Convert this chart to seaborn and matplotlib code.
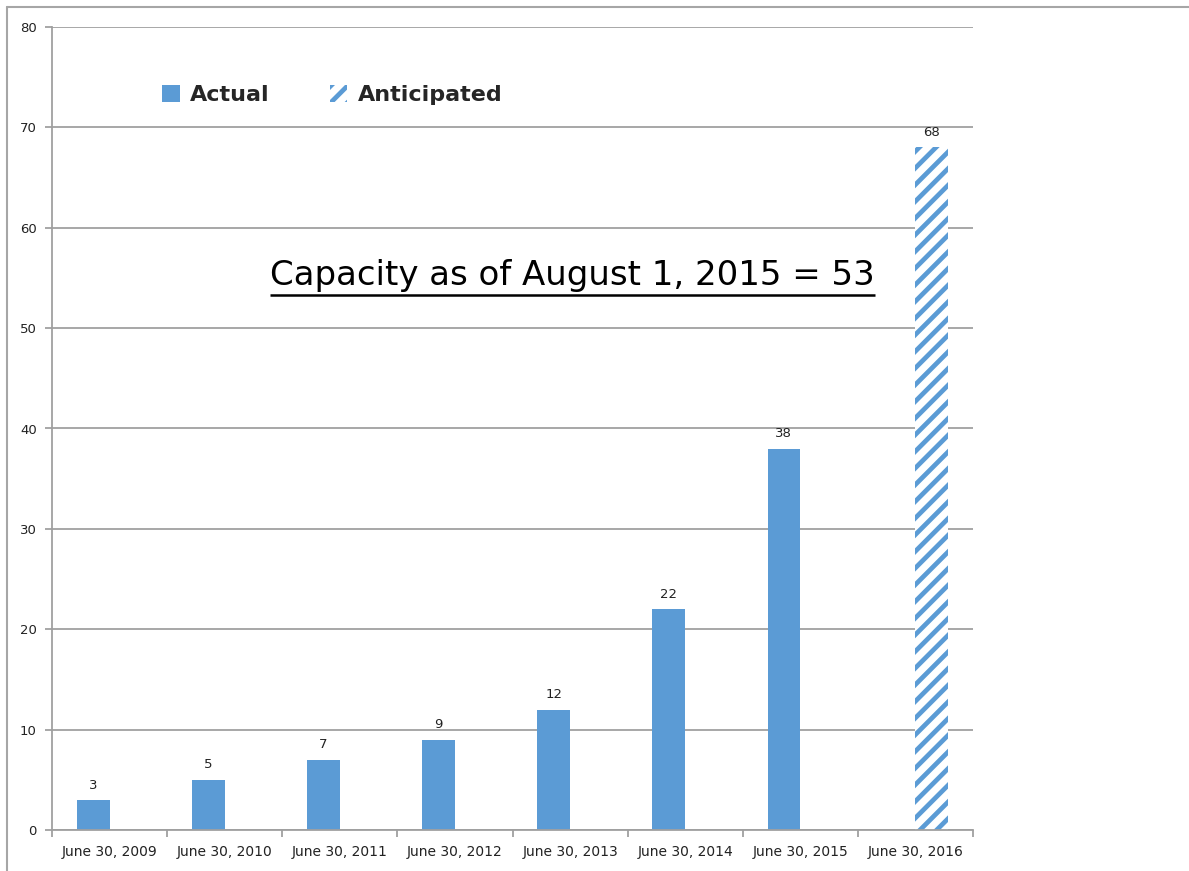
import pandas as pd
import seaborn as sns
import matplotlib.pyplot as plt
from matplotlib.patches import Patch
from matplotlib.lines import Line2D

dates = ['June 30, 2009', 'June 30, 2010', 'June 30, 2011', 'June 30, 2012',
         'June 30, 2013', 'June 30, 2014', 'June 30, 2015', 'June 30, 2016']
actual = [3, 5, 7, 9, 12, 22, 38]
anticipated = [68]
series = ['Actual', 'Anticipated']
yticks = [0, 10, 20, 30, 40, 50, 60, 70, 80]

blue = '#5B9BD5'
grey = '#A0A0A0'

df = pd.DataFrame({
    'date': dates[:len(actual)] + dates[len(actual):],
    'value': actual + anticipated,
    'series': ['Actual'] * len(actual) + ['Anticipated'] * len(anticipated),
})

sns.set_style('white')
plt.rcParams['font.family'] = ['DejaVu Sans']
plt.rcParams['hatch.linewidth'] = 3.4

fig = plt.figure(figsize=(11.89, 8.71), dpi=100)
ax = fig.add_axes([52 / 1189, 1 - 830 / 871, 921 / 1189, 803 / 871])

sns.barplot(data=df, x='date', y='value', hue='series', order=dates,
            hue_order=series, palette=[blue, blue], width=0.57,
            saturation=1, linewidth=0, dodge=True, legend=False, ax=ax)

# hatched anticipated bar
for bar in ax.containers[1]:
    bar.set_facecolor('white')
    bar.set_edgecolor(blue)
    bar.set_linewidth(0)
    bar.set_hatch('//')

for cont in ax.containers:
    ax.bar_label(cont, fmt='%d', padding=6, fontsize=9.5, color='#222222')

ax.set_xlim(-0.5, len(dates) - 0.5)
ax.set_ylim(0, 80)
ax.set_yticks(yticks)
ax.yaxis.grid(True, color=grey, linewidth=1.3)
ax.set_axisbelow(True)
ax.set_xlabel('')
ax.set_ylabel('')

ax.set_xticks([i - 0.5 for i in range(len(dates) + 1)], minor=True)
ax.tick_params(axis='x', which='major', length=0, pad=11, labelsize=10,
               labelcolor='#222222')
ax.tick_params(axis='x', which='minor', length=5, width=1.3, color=grey,
               direction='out', bottom=True)
ax.tick_params(axis='y', length=5, width=1.3, color=grey, left=True,
               direction='out', pad=6, labelsize=9.5, labelcolor='#222222')

for side in ['top', 'right']:
    ax.spines[side].set_visible(False)
for side in ['left', 'bottom']:
    ax.spines[side].set_color(grey)
    ax.spines[side].set_linewidth(1.3)

handles = [Patch(facecolor=blue, edgecolor='none', label='Actual'),
           Patch(facecolor='white', edgecolor=blue, hatch='//', linewidth=0,
                 label='Anticipated')]
ax.legend(handles=handles, loc='center left', bbox_to_anchor=(0.098, 0.915),
          ncol=2, frameon=False, handlelength=0.8, handleheight=0.8,
          handletextpad=0.45, columnspacing=2.7,
          prop={'size': 16, 'weight': 'bold'})

title = ax.text(4.02, 55.2, 'Capacity as of August 1, 2015 = 53',
                ha='center', va='center', fontsize=24.5, color='black')

# underline below the text
fig.canvas.draw()
bb = title.get_window_extent().transformed(ax.transData.inverted())
ax.plot([bb.x0, bb.x1], [bb.y0 - 0.3, bb.y0 - 0.3], color='black',
        linewidth=1.8, solid_capstyle='butt')

# outer frame lines
fig.add_artist(Line2D([7 / 1189, 1], [1 - 7 / 871, 1 - 7 / 871],
                      transform=fig.transFigure, color='#A6A6A6', linewidth=1.5))
fig.add_artist(Line2D([7 / 1189, 7 / 1189], [0, 1 - 7 / 871],
                      transform=fig.transFigure, color='#A6A6A6', linewidth=1.5))

fig.savefig('out.png', dpi=100)
